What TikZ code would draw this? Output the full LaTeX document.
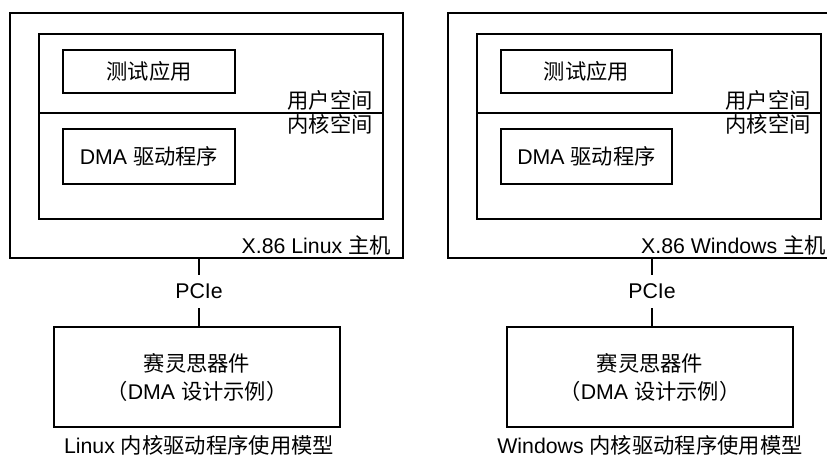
\documentclass[tikz,border=0pt]{standalone}
\usepackage{fontspec}
\setmainfont{Liberation Sans}
\newfontfamily\cjk{Noto Sans CJK SC}
\begin{document}
\begin{tikzpicture}[x=1pt,y=-1pt,
  box/.style={draw=black,line width=1.2pt,inner sep=0pt},
  lbl/.style={inner sep=0pt,font=\fontsize{21.3}{25}\selectfont},
  conn/.style={draw=black,line width=1.1pt}]
\useasboundingbox (0,0) rectangle (827,457);
\clip (0,0) rectangle (827,457);
\fill[white] (0,0) rectangle (827,457);
% ---------- Linux ----------
\node[box,minimum width=393,minimum height=245] (hostL) at (206.5,135.5) {};
\node[box,minimum width=344,minimum height=185] (osL) at (211,126.5) {};
\coordinate (divLa) at (39,113);
\coordinate (divLb) at (383,113);
\draw[conn] (divLa) -- (divLb);
\node[box,minimum width=172,minimum height=43] (appL) at (149,71.5) {};
\node[lbl] (appLt) at (appL.center) {\cjk 测试应用};
\node[box,minimum width=172,minimum height=55] (drvL) at (149,156.5) {};
\node[lbl] (drvLt) at (drvL.center) {DMA {\cjk 驱动程序}};
\node[lbl] (userL) at (330,100) {\cjk 用户空间};
\node[lbl] (kernL) at (330,124) {\cjk 内核空间};
\node[lbl,anchor=east] (hostLt) at (391,245) {X.86 Linux {\cjk 主机}};
\node[lbl,minimum height=33] (pcieL) at (199,291.5) {PCIe};
\node[box,minimum width=286,minimum height=100] (devL) at (197,377) {};
\node[lbl,align=center] (devLt) at (197,377.5) {{\cjk 赛灵思器件}\\[3pt]{\cjk （}DMA {\cjk 设计示例）}};
\node[lbl] (capL) at (199,445) {Linux {\cjk 内核驱动程序使用模型}};
\draw[conn] (hostL.south -| pcieL) -- (pcieL.north);
\draw[conn] (pcieL.south) -- (devL.north -| pcieL);
% ---------- Windows ----------
\node[box,minimum width=393,minimum height=245] (hostW) at (644.5,135.5) {};
\node[box,minimum width=344,minimum height=185] (osW) at (649,126.5) {};
\coordinate (divWa) at (477,113);
\coordinate (divWb) at (821,113);
\draw[conn] (divWa) -- (divWb);
\node[box,minimum width=171,minimum height=43] (appW) at (586.5,71.5) {};
\node[lbl] (appWt) at (appW.center) {\cjk 测试应用};
\node[box,minimum width=171,minimum height=55] (drvW) at (586.5,156.5) {};
\node[lbl] (drvWt) at (drvW.center) {DMA {\cjk 驱动程序}};
\node[lbl] (userW) at (768,100) {\cjk 用户空间};
\node[lbl] (kernW) at (768,124) {\cjk 内核空间};
\node[lbl,anchor=east] (hostWt) at (826,245) {X.86 Windows {\cjk 主机}};
\node[lbl,minimum height=33] (pcieW) at (652,291.5) {PCIe};
\node[box,minimum width=286,minimum height=100] (devW) at (650,377) {};
\node[lbl,align=center] (devWt) at (650,377.5) {{\cjk 赛灵思器件}\\[3pt]{\cjk （}DMA {\cjk 设计示例）}};
\node[lbl] (capW) at (650,445) {Windows {\cjk 内核驱动程序使用模型}};
\draw[conn] (hostW.south -| pcieW) -- (pcieW.north);
\draw[conn] (pcieW.south) -- (devW.north -| pcieW);
\end{tikzpicture}
\end{document}
